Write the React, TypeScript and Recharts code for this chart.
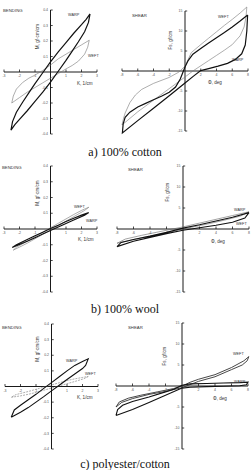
import React from 'react';
import { ComposedChart, Scatter, XAxis, YAxis, ReferenceLine, ReferenceDot } from 'recharts';

type Pt = [number, number];

// ---------- tick values ----------
const bendXTicks = [-3, -2, -1, 1, 2, 3];
const bendYTicks = [0.4, 0.3, 0.2, 0.1, -0.1, -0.2, -0.3, -0.4];
const shearXTicks = [-8, -6, -4, -2, 2, 4, 6, 8];
const shearYTicks = [15, 10, 5, -5, -10, -15];

// ---------- a) 100% cotton ----------
const cottonBendWarp: Pt[] = [
  [2.55, 0.375], [2.45, 0.32], [2.2, 0.26], [1.8, 0.195], [1.4, 0.135], [1.0, 0.075], [0.5, 0.005], [0, -0.065],
  [-0.5, -0.13], [-1.0, -0.19], [-1.5, -0.25], [-2.0, -0.305], [-2.3, -0.34], [-2.55, -0.375],
  [-2.45, -0.32], [-2.2, -0.26], [-1.8, -0.195], [-1.4, -0.135], [-1.0, -0.075], [-0.5, -0.005], [0, 0.065],
  [0.5, 0.13], [1.0, 0.19], [1.5, 0.25], [2.0, 0.305], [2.3, 0.34], [2.55, 0.375],
];
const cottonBendWeft: Pt[] = [
  [2.5, 0.205], [2.4, 0.16], [2.2, 0.115], [1.8, 0.07], [1.4, 0.042], [1.0, 0.02], [0.5, -0.01], [0, -0.04],
  [-0.5, -0.07], [-1.0, -0.1], [-1.5, -0.13], [-2.0, -0.165], [-2.5, -0.2],
  [-2.4, -0.155], [-2.2, -0.11], [-1.8, -0.068], [-1.4, -0.04], [-1.0, -0.02], [-0.5, 0.01], [0, 0.045],
  [0.5, 0.085], [1.0, 0.115], [1.5, 0.145], [2.0, 0.175], [2.5, 0.205],
];
const cottonShearWarp: Pt[] = [
  [7.95, 14], [7.85, 10], [7.65, 6.5], [7.2, 4.3], [6.4, 2.9], [5.4, 1.9], [4.2, 1.2], [3.0, 0.6], [2.0, 0.1],
  [1.0, -1.4], [0, -3.0], [-2, -6.2], [-4, -9.3], [-6, -12.4], [-7.95, -15.5],
  [-7.85, -13.2], [-7.6, -11.6], [-7.0, -10.3], [-6.0, -9.0], [-5.0, -8.1], [-4.0, -7.2], [-3.0, -6.3],
  [-2.0, -5.3], [-1.2, -4.0], [-0.6, -2.0], [-0.3, -0.5], [0, 1.0], [0.4, 2.6], [1.0, 4.2], [2.0, 5.6],
  [3.0, 7.0], [4.0, 8.3], [5.0, 9.6], [6.0, 11.0], [7.0, 12.5], [7.95, 14],
];
const cottonShearWeft: Pt[] = [
  [-8, -13.5], [-7.8, -11.8], [-7.6, -10.5], [-7.0, -7.9], [-6.3, -6.0], [-5.5, -4.6], [-4.0, -3.1],
  [-2.0, -1.6], [-0.8, -0.3], [0, 1.2], [0.8, 4.6], [2.0, 6.6], [3.0, 8.2], [4.0, 9.8], [5.0, 11.4],
  [6.0, 12.9], [7.0, 14.5], [7.85, 16],
  [7.75, 13.5], [7.5, 11], [7.0, 8.8], [6.0, 6.6], [5.0, 5.2], [4.0, 3.9], [3.0, 2.6], [2.0, 1.3],
  [1.0, 0.0], [0, -1.5], [-2, -4.4], [-4, -7.3], [-6, -10.2], [-8, -13.5],
];

// ---------- b) 100% wool ----------
const woolBendWarp: Pt[] = [
  [2.47, 0.104], [2.2, 0.088], [1.5, 0.057], [1.0, 0.035], [0.5, 0.012], [0, -0.01], [-0.5, -0.032],
  [-1.0, -0.055], [-1.5, -0.077], [-2.0, -0.098], [-2.47, -0.117],
  [-2.2, -0.1], [-1.5, -0.066], [-1.0, -0.043], [-0.5, -0.02], [0, 0.003], [0.5, 0.024], [1.0, 0.047],
  [1.5, 0.068], [2.0, 0.088], [2.47, 0.104],
];
const woolBendWeft: Pt[] = [
  [2.47, 0.138], [2.2, 0.118], [1.5, 0.078], [1.0, 0.05], [0.5, 0.022], [0, -0.006], [-0.5, -0.034],
  [-1.0, -0.062], [-1.5, -0.09], [-2.0, -0.115], [-2.4, -0.134],
  [-2.2, -0.116], [-1.5, -0.077], [-1.0, -0.049], [-0.5, -0.021], [0, 0.008], [0.5, 0.036], [1.0, 0.064],
  [1.5, 0.092], [2.0, 0.118], [2.47, 0.138],
];
const woolShearWarp: Pt[] = [
  [8, 4.1], [7, 3.1], [5, 2.1], [3, 1.2], [1, 0.4], [0, 0], [-2, -0.9], [-4, -1.7], [-6, -2.5], [-8, -3.4],
  [-7, -2.4], [-5, -1.5], [-3, -0.7], [-1, 0.1], [0, 0.5], [2, 1.4], [4, 2.3], [6, 3.2], [8, 4.1],
];
const woolShearWeft: Pt[] = [
  [8, 3.9], [7.5, 2.6], [6, 1.6], [4, 0.9], [2, 0.3], [0, -0.3], [-2, -1.1], [-4, -2.0], [-6, -2.9], [-8, -4.2],
  [-7.5, -3.2], [-6, -2.5], [-4, -1.7], [-2, -0.8], [0, 0.2], [2, 1.0], [4, 1.9], [6, 2.8], [8, 3.9],
];

// ---------- c) polyester/cotton ----------
const pcBendWarp: Pt[] = [
  [-2.6, -0.197], [-2.4, -0.15], [-2.0, -0.12], [-1.5, -0.085], [-1.0, -0.05], [-0.5, -0.012], [0, 0.025],
  [0.5, 0.062], [1.0, 0.1], [1.5, 0.135], [2.0, 0.16], [2.37, 0.177],
  [2.2, 0.135], [2.0, 0.115], [1.5, 0.08], [1.0, 0.045], [0.5, 0.008], [0, -0.028], [-0.5, -0.065],
  [-1.0, -0.1], [-1.5, -0.135], [-2.0, -0.165], [-2.6, -0.197],
];
const pcBendWeft: Pt[] = [
  [2.37, 0.064], [2.1, 0.05], [1.5, 0.032], [1.0, 0.018], [0.5, 0.004], [0, -0.01], [-0.5, -0.024],
  [-1.0, -0.038], [-1.5, -0.05], [-2.0, -0.06], [-2.6, -0.069],
  [-2.3, -0.052], [-1.5, -0.032], [-1.0, -0.018], [-0.5, -0.004], [0, 0.01], [0.5, 0.024], [1.0, 0.038],
  [1.5, 0.049], [2.0, 0.058], [2.37, 0.064],
];
const pcShearWeft: Pt[] = [
  [-8, -5], [-7.6, -3.8], [-6.5, -2.9], [-5, -2.2], [-3, -1.4], [-1, -0.6], [0, 0], [1, 0.9], [2, 1.6],
  [4, 2.7], [6, 4.4], [7.5, 6.0], [8.1, 7.0],
  [7.9, 6.0], [7.3, 5.0], [6, 3.9], [4, 2.2], [2, 1.1], [0, -0.4], [-2, -1.3], [-4, -2.0], [-6, -3.0],
  [-7.3, -3.9], [-8, -5],
];
const pcShearWarp: Pt[] = [
  [-8, -7.0], [-7.8, -5.6], [-7.2, -4.6], [-6, -3.7], [-4, -2.6], [-2, -1.4], [-1, -0.8], [0, 0.2], [1, 0.5],
  [3, 0.6], [5, 0.7], [7, 0.8], [8, 0.9],
  [7.8, 0.3], [7, 0.05], [5, -0.05], [3, -0.15], [1, -0.3], [0, -0.5], [-2, -2.2], [-4, -3.9], [-6, -5.6],
  [-8, -7.0],
];

// ---------- rendering ----------
interface SeriesSpec { pts: Pt[]; color: string; width: number; dash?: string }
interface PanelProps {
  xr: [number, number]; yr: [number, number];
  px: [number, number]; py: [number, number];
  xTicks: number[]; yTicks: number[];
  fmtY: (v: number) => string;
  series: SeriesSpec[];
}

const M = 14;
const AXIS = '#1a1a1a';
const TICKTXT = '#555';
const SANS = 'Liberation Sans, Arial, sans-serif';

const Empty = () => <g />;

function Panel({ xr, yr, px, py, xTicks, yTicks, fmtY, series }: PanelProps) {
  const kx = (px[1] - px[0]) / (xr[1] - xr[0]);
  const ky = (py[1] - py[0]) / (yr[1] - yr[0]);
  const width = px[1] - px[0] + 2 * M;
  const height = py[1] - py[0] + 2 * M;
  const xDom: [number, number] = [xr[0] - M / kx, xr[1] + M / kx];
  const yDom: [number, number] = [yr[0] - M / ky, yr[1] + M / ky];
  return (
    <div style={{ position: 'absolute', left: px[0] - M, top: py[0] - M }}>
      <ComposedChart width={width} height={height} margin={{ top: 0, right: 0, bottom: 0, left: 0 }}>
        <XAxis type="number" dataKey="x" domain={xDom} hide />
        <YAxis type="number" dataKey="y" domain={yDom} hide />
        <ReferenceLine segment={[{ x: xr[0], y: 0 }, { x: xr[1], y: 0 }]} stroke={AXIS} strokeWidth={1} />
        <ReferenceLine segment={[{ x: 0, y: yr[0] }, { x: 0, y: yr[1] }]} stroke={AXIS} strokeWidth={1} />
        {xTicks.map((t) => (
          <ReferenceDot
            key={'x' + t}
            x={t}
            y={0}
            r={0}
            shape={(p: any) => (
              <g>
                <line x1={p.cx} y1={p.cy} x2={p.cx} y2={p.cy - 2.5} stroke={AXIS} strokeWidth={0.8} />
                <text x={p.cx} y={p.cy + 5} fontSize={3.5} fill={TICKTXT} textAnchor="middle" fontFamily={SANS}>
                  {String(t)}
                </text>
              </g>
            )}
          />
        ))}
        {yTicks.map((t) => (
          <ReferenceDot
            key={'y' + t}
            x={0}
            y={t}
            r={0}
            shape={(p: any) => (
              <g>
                <line x1={p.cx} y1={p.cy} x2={p.cx + 2.2} y2={p.cy} stroke={AXIS} strokeWidth={0.8} />
                <text x={p.cx - 2.5} y={p.cy + 1.2} fontSize={3.5} fill={TICKTXT} textAnchor="end" fontFamily={SANS}>
                  {fmtY(t)}
                </text>
              </g>
            )}
          />
        ))}
        {series.map((s, i) => (
          <Scatter
            key={i}
            data={s.pts.map(([x, y]) => ({ x, y }))}
            line={{ stroke: s.color, strokeWidth: s.width, strokeDasharray: s.dash, fill: 'none' }}
            lineType="joint"
            shape={Empty}
            isAnimationActive={false}
          />
        ))}
      </ComposedChart>
    </div>
  );
}

const fmtBend = (v: number) => v.toFixed(1);
const fmtShear = (v: number) => String(v);

function Lbl({ x, y, s, size = 4.3 }: { x: number; y: number; s: string; size?: number }) {
  return (
    <text x={x} y={y} fontSize={size} fill="#333" fontFamily={SANS}>
      {s}
    </text>
  );
}
function VLbl({ x, y, s }: { x: number; y: number; s: string }) {
  return (
    <text x={x} y={y} fontSize={4.6} fill="#333" fontFamily={SANS} textAnchor="middle"
      dominantBaseline="central" transform={`rotate(-90 ${x} ${y})`}>
      {s}
    </text>
  );
}

export default function App() {
  const W = '#111';
  const G = '#777';
  const serif = 'Liberation Serif, Times New Roman, serif';
  return (
    <div style={{ position: 'absolute', left: 0, top: 0, width: 251, height: 470, background: '#fff', overflow: 'hidden' }}>
      <Panel xr={[-3, 3]} yr={[-0.4, 0.4]} px={[4, 97]} py={[10, 134]} xTicks={bendXTicks} yTicks={bendYTicks} fmtY={fmtBend}
        series={[{ pts: cottonBendWeft, color: G, width: 0.6 }, { pts: cottonBendWarp, color: W, width: 1.2 }]} />
      <Panel xr={[-8, 8]} yr={[-15, 15]} px={[122, 248]} py={[11, 131]} xTicks={shearXTicks} yTicks={shearYTicks} fmtY={fmtShear}
        series={[{ pts: cottonShearWeft, color: G, width: 0.6 }, { pts: cottonShearWarp, color: W, width: 1.2 }]} />
      <Panel xr={[-3, 3]} yr={[-0.4, 0.4]} px={[3.5, 96.5]} py={[166, 292]} xTicks={bendXTicks} yTicks={bendYTicks} fmtY={fmtBend}
        series={[{ pts: woolBendWeft, color: G, width: 0.6 }, { pts: woolBendWarp, color: W, width: 1.1 }]} />
      <Panel xr={[-8, 8]} yr={[-15, 15]} px={[117, 249]} py={[166, 292]} xTicks={shearXTicks} yTicks={shearYTicks} fmtY={fmtShear}
        series={[{ pts: woolShearWarp, color: '#666', width: 0.6 }, { pts: woolShearWeft, color: W, width: 1.1 }]} />
      <Panel xr={[-3, 3]} yr={[-0.4, 0.4]} px={[4.5, 97.5]} py={[324, 449]} xTicks={bendXTicks} yTicks={bendYTicks} fmtY={fmtBend}
        series={[{ pts: pcBendWeft, color: G, width: 0.6, dash: '2 1' }, { pts: pcBendWarp, color: W, width: 1.1 }]} />
      <Panel xr={[-8, 8]} yr={[-15, 15]} px={[116, 248]} py={[323, 449]} xTicks={shearXTicks} yTicks={shearYTicks} fmtY={fmtShear}
        series={[{ pts: pcShearWeft, color: '#333', width: 0.9 }, { pts: pcShearWarp, color: W, width: 1.1 }]} />

      <svg width={251} height={470} style={{ position: 'absolute', left: 0, top: 0, pointerEvents: 'none' }}>
        {/* a */}
        <Lbl x={3} y={11.5} s="BENDING" />
        <VLbl x={37} y={36.5} s="M, gf·cm/cm" />
        <Lbl x={77} y={85} s="K, 1/cm" size={4.6} />
        <Lbl x={68} y={15.5} s="WARP" size={3.8} />
        <Lbl x={88} y={56.5} s="WEFT" size={3.8} />
        <Lbl x={132} y={16.5} s="SHEAR" />
        <VLbl x={170} y={40} s="Fs, gf/cm" />
        <Lbl x={208} y={84} s="Φ, deg" size={4.6} />
        <Lbl x={218} y={17.5} s="WEFT" size={3.8} />
        <Lbl x={232} y={60.5} s="WARP" size={3.8} />
        {/* b */}
        <Lbl x={2} y={168.5} s="BENDING" />
        <VLbl x={37} y={193} s="M, gf·cm/cm" />
        <Lbl x={78} y={241} s="K, 1/cm" size={4.6} />
        <Lbl x={74} y={207.5} s="WEFT" size={3.8} />
        <Lbl x={86} y={221.5} s="WARP" size={3.8} />
        <Lbl x={128} y={170.5} s="SHEAR" />
        <VLbl x={167} y={192} s="Fs, gf/cm" />
        <Lbl x={211} y={243} s="Φ, deg" size={4.6} />
        <Lbl x={234} y={210.5} s="WARP" size={3.8} />
        <Lbl x={236} y={224.5} s="WEFT" size={3.8} />
        {/* c */}
        <Lbl x={2} y={328.5} s="BENDING" />
        <VLbl x={37} y={349} s="M, gf·cm/cm" />
        <Lbl x={77} y={399} s="K, 1/cm" size={4.6} />
        <Lbl x={66} y={361.5} s="WARP" size={3.8} />
        <Lbl x={85} y={374.5} s="WEFT" size={3.8} />
        <Lbl x={128} y={328.5} s="SHEAR" />
        <VLbl x={164} y={356} s="Fs, gf/cm" />
        <Lbl x={213} y={400} s="Φ, deg" size={4.6} />
        <Lbl x={233} y={354.5} s="WEFT" size={3.8} />
        <Lbl x={234} y={382.5} s="WARP" size={3.8} />
        {/* captions */}
        <text x={125} y={155.5} fontSize={12} fontFamily={serif} textAnchor="middle" fill="#111">a) 100% cotton</text>
        <text x={125} y={312.5} fontSize={12} fontFamily={serif} textAnchor="middle" fill="#111">b) 100% wool</text>
        <text x={125} y={468} fontSize={12} fontFamily={serif} textAnchor="middle" fill="#111">c) polyester/cotton</text>
      </svg>
    </div>
  );
}
